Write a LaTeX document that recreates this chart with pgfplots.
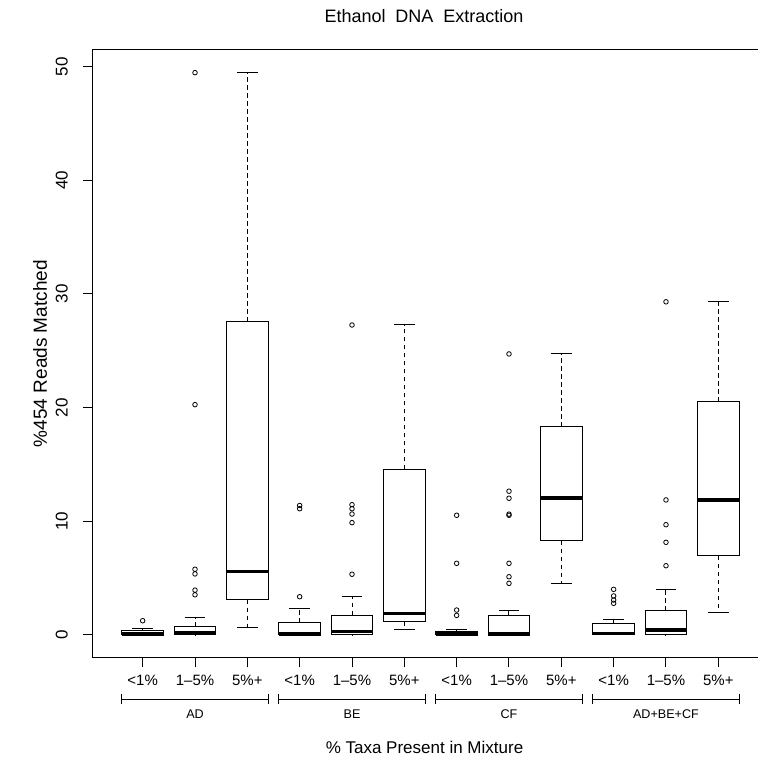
\documentclass[border=0pt]{standalone}
\usepackage{fontspec}
\setmainfont{Liberation Sans}
\usepackage{pgfplots}
\pgfplotsset{compat=1.18}
\usepgfplotslibrary{statistics}

% R-style boxplot: dashed stems, solid staples, thick median
\pgfplotsset{
  boxplot/draw/lower whisker/.code={%
    \draw[dash pattern=on 4.5pt off 3.5pt]
      (boxplot box cs:\pgfplotsboxplotvalue{lower quartile},0.5) --
      (boxplot box cs:\pgfplotsboxplotvalue{lower whisker},0.5);
    \draw[solid]
      (boxplot whisker cs:\pgfplotsboxplotvalue{lower whisker},0) --
      (boxplot whisker cs:\pgfplotsboxplotvalue{lower whisker},1);
  },
  boxplot/draw/upper whisker/.code={%
    \draw[dash pattern=on 4.5pt off 3.5pt]
      (boxplot box cs:\pgfplotsboxplotvalue{upper quartile},0.5) --
      (boxplot box cs:\pgfplotsboxplotvalue{upper whisker},0.5);
    \draw[solid]
      (boxplot whisker cs:\pgfplotsboxplotvalue{upper whisker},0) --
      (boxplot whisker cs:\pgfplotsboxplotvalue{upper whisker},1);
  },
  rbox/.style={
    solid, draw=black, fill=white, line width=1pt,
    mark=o, mark size=2.3pt,
    mark options={solid, draw=black, fill=none, line width=0.8pt},
    boxplot/draw direction=y,
    boxplot/box extend=0.8,
    boxplot/whisker extend=0.4,
    boxplot/every median/.style={line width=3.5pt},
  },
}
\tikzset{
  bracket/.style={line width=1pt, black},
  grouplab/.style={font=\fontsize{12.6}{15}\selectfont, inner sep=0pt},
}

\begin{document}
\begin{tikzpicture}
\useasboundingbox (0,0) rectangle (758pt,757pt);
\begin{axis}[
  at={(92.7pt,99.7pt)}, anchor=south west,
  scale only axis,
  width=676.9pt, height=607.3pt,
  xmin=0.045, xmax=12.98,
  ymin=-1.98, ymax=51.48,
  clip=false,
  axis line style={line width=1pt, black},
  tick pos=left,
  tick align=outside,
  major tick length=10pt,
  xtick style={black, line width=1pt},
  ytick style={black, line width=1pt},
  xtick={1,2,3,4,5,6,7,8,9,10,11,12},
  xticklabels={<1\%,1--5\%,5\%+,<1\%,1--5\%,5\%+,<1\%,1--5\%,5\%+,<1\%,1--5\%,5\%+},
  xticklabel style={font=\fontsize{15}{18}\selectfont, anchor=base, inner sep=0pt},
  xticklabel shift=18pt,
  ytick={0,10,20,30,40,50},
  yticklabel style={font=\fontsize{17}{20}\selectfont, rotate=90, anchor=south, inner sep=0pt},
  yticklabel shift=14.7pt,
  /pgf/number format/assume math mode=true,
]
% AD
\addplot[rbox, boxplot prepared={draw position=1, lower whisker=0, lower quartile=0, median=0.05, upper quartile=0.42, upper whisker=0.54}]
  coordinates {(0,1.24)};
\addplot[rbox, boxplot prepared={draw position=2, lower whisker=0, lower quartile=0.02, median=0.19, upper quartile=0.71, upper whisker=1.51}]
  coordinates {(0,3.52) (0,3.93) (0,5.36) (0,5.77) (0,20.26) (0,49.48)};
\addplot[rbox, boxplot prepared={draw position=3, lower whisker=0.6, lower quartile=3.1, median=5.55, upper quartile=27.55, upper whisker=49.48}]
  coordinates {};
% BE
\addplot[rbox, boxplot prepared={draw position=4, lower whisker=0, lower quartile=0, median=0.05, upper quartile=1.07, upper whisker=2.3}]
  coordinates {(0,3.35) (0,11.1) (0,11.38)};
\addplot[rbox, boxplot prepared={draw position=5, lower whisker=0, lower quartile=0.02, median=0.3, upper quartile=1.74, upper whisker=3.33}]
  coordinates {(0,5.33) (0,9.87) (0,10.63) (0,11.1) (0,11.45) (0,27.27)};
\addplot[rbox, boxplot prepared={draw position=6, lower whisker=0.45, lower quartile=1.13, median=1.89, upper quartile=14.57, upper whisker=27.27}]
  coordinates {};
% CF
\addplot[rbox, boxplot prepared={draw position=7, lower whisker=0, lower quartile=0, median=0.05, upper quartile=0.25, upper whisker=0.45}]
  coordinates {(0,1.71) (0,2.18) (0,6.29) (0,10.52)};
\addplot[rbox, boxplot prepared={draw position=8, lower whisker=0, lower quartile=0, median=0.05, upper quartile=1.68, upper whisker=2.18}]
  coordinates {(0,4.53) (0,5.11) (0,6.29) (0,10.52) (0,10.62) (0,12.02) (0,12.64) (0,24.72)};
\addplot[rbox, boxplot prepared={draw position=9, lower whisker=4.53, lower quartile=8.26, median=12.02, upper quartile=18.32, upper whisker=24.72}]
  coordinates {};
% AD+BE+CF
\addplot[rbox, boxplot prepared={draw position=10, lower whisker=0, lower quartile=0, median=0.13, upper quartile=0.98, upper whisker=1.33}]
  coordinates {(0,2.77) (0,3.06) (0,3.42) (0,4.0)};
\addplot[rbox, boxplot prepared={draw position=11, lower whisker=0, lower quartile=0.02, median=0.42, upper quartile=2.12, upper whisker=4.0}]
  coordinates {(0,6.08) (0,8.14) (0,9.69) (0,11.87) (0,29.31)};
\addplot[rbox, boxplot prepared={draw position=12, lower whisker=2.0, lower quartile=6.96, median=11.87, upper quartile=20.52, upper whisker=29.31}]
  coordinates {};

% x tick marks below the box (10px = 0.88 units)
\draw[bracket] (axis cs:1,-1.98) -- (axis cs:1,-2.86) (axis cs:2,-1.98) -- (axis cs:2,-2.86) (axis cs:3,-1.98) -- (axis cs:3,-2.86);
\draw[bracket] (axis cs:4,-1.98) -- (axis cs:4,-2.86) (axis cs:5,-1.98) -- (axis cs:5,-2.86) (axis cs:6,-1.98) -- (axis cs:6,-2.86);
\draw[bracket] (axis cs:7,-1.98) -- (axis cs:7,-2.86) (axis cs:8,-1.98) -- (axis cs:8,-2.86) (axis cs:9,-1.98) -- (axis cs:9,-2.86);
\draw[bracket] (axis cs:10,-1.98) -- (axis cs:10,-2.86) (axis cs:11,-1.98) -- (axis cs:11,-2.86) (axis cs:12,-1.98) -- (axis cs:12,-2.86);

% group brackets and names
\draw[bracket] (axis cs:0.6,-5.24) -- (axis cs:0.6,-6.12) (axis cs:0.6,-5.68) -- (axis cs:3.4,-5.68) (axis cs:3.4,-5.24) -- (axis cs:3.4,-6.12);
\draw[bracket] (axis cs:3.6,-5.24) -- (axis cs:3.6,-6.12) (axis cs:3.6,-5.68) -- (axis cs:6.4,-5.68) (axis cs:6.4,-5.24) -- (axis cs:6.4,-6.12);
\draw[bracket] (axis cs:6.6,-5.24) -- (axis cs:6.6,-6.12) (axis cs:6.6,-5.68) -- (axis cs:9.4,-5.68) (axis cs:9.4,-5.24) -- (axis cs:9.4,-6.12);
\draw[bracket] (axis cs:9.6,-5.24) -- (axis cs:9.6,-6.12) (axis cs:9.6,-5.68) -- (axis cs:12.4,-5.68) (axis cs:12.4,-5.24) -- (axis cs:12.4,-6.12);
\node[grouplab] at (axis cs:2,-6.95) {AD};
\node[grouplab] at (axis cs:5,-6.95) {BE};
\node[grouplab] at (axis cs:8,-6.95) {CF};
\node[grouplab] at (axis cs:11,-6.95) {AD+BE+CF};
\end{axis}
\node[font=\fontsize{18}{22}\selectfont] at (424pt,741pt) {Ethanol\hspace{0.55em}DNA\hspace{0.55em}Extraction};
\node[font=\fontsize{17}{20}\selectfont] at (424.5pt,10pt) {\% Taxa Present in Mixture};
\node[font=\fontsize{19}{22}\selectfont, rotate=90] at (40pt,403.4pt) {\%454 Reads Matched};
\end{tikzpicture}
\end{document}
